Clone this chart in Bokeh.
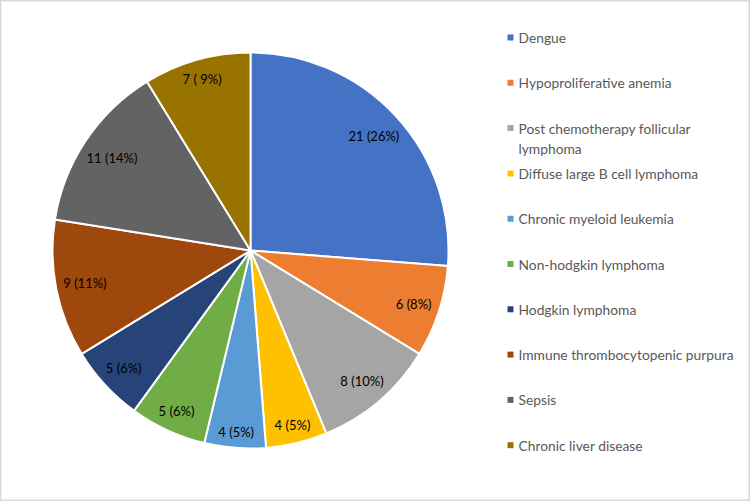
import math
from bokeh.plotting import figure
from bokeh.models import Range1d, ColumnDataSource
from bokeh.core.properties import value
from bokeh.embed import file_html
from bokeh.resources import INLINE

# ---- data ----
categories = [
    "Dengue",
    "Hypoproliferative anemia",
    "Post chemotherapy follicular\nlymphoma",
    "Diffuse large B cell lymphoma",
    "Chronic myeloid leukemia",
    "Non-hodgkin lymphoma",
    "Hodgkin lymphoma",
    "Immune thrombocytopenic purpura",
    "Sepsis",
    "Chronic liver disease",
]
counts = [21, 6, 8, 4, 4, 5, 5, 9, 11, 7]
label_texts = ["21 (26%)", "6 (8%)", "8 (10%)", "4 (5%)", "4 (5%)",
               "5 (6%)", "5 (6%)", "9 (11%)", "11 (14%)", "7 ( 9%)"]
colors = ["#4472C4", "#ED7D31", "#A5A5A5", "#FFC000", "#5B9BD5",
          "#70AD47", "#264478", "#9E480E", "#636363", "#997300"]

# ---- layout (pixels, measured from top-left) ----
W, H = 750, 501
CX, CY, R = 250, 250, 198
FONT = "Lato"
LABEL_SIZE = 13
CHAR_W = 6.3
LABEL_H = 16
LEG_X_SQ, LEG_X_TXT, LEG_Y0, LEG_DY = 510, 518, 37, 45.3


def Y(ypx):
    return H - ypx


total = sum(counts)
starts, ends, lx, ly = [], [], [], []
cum = 0
for v, t in zip(counts, label_texts):
    a0 = cum / total * 2 * math.pi
    a1 = (cum + v) / total * 2 * math.pi
    cum += v
    starts.append(math.pi / 2 - a0)
    ends.append(math.pi / 2 - a1)
    mid = (a0 + a1) / 2
    s, c = math.sin(mid), math.cos(mid)
    w = CHAR_W * len(t)
    r = R - 6 - (w / 2) * abs(s) - (LABEL_H / 2) * abs(c)
    lx.append(CX + r * s)
    ly.append(Y(CY - r * c))

p = figure(width=W, height=H, x_range=Range1d(0, W), y_range=Range1d(0, H),
           x_axis_type=None, y_axis_type=None, min_border=0,
           toolbar_location=None, output_backend="svg")
p.grid.visible = False
p.outline_line_color = "#d9d9d9"
p.outline_line_width = 2
p.background_fill_color = "white"
p.border_fill_color = "white"

src = ColumnDataSource(dict(start=starts, end=ends, color=colors,
                            lx=lx, ly=ly, lt=label_texts))
p.wedge(x=CX, y=Y(CY), radius=R, start_angle="start", end_angle="end",
        direction="clock", fill_color="color", line_color="white",
        line_width=2, source=src)
p.text(x="lx", y="ly", text="lt", source=src, text_align="center",
       text_baseline="middle", text_font=value(FONT),
       text_font_size=f"{LABEL_SIZE}px", text_color="#000000")

# legend
leg_y = [Y(LEG_Y0 + i * LEG_DY) for i in range(len(categories))]
leg = ColumnDataSource(dict(y=leg_y, ty=[y + 8.5 for y in leg_y],
                            color=colors, name=categories))
p.scatter(x=LEG_X_SQ, y="y", marker="square", size=6, fill_color="color",
          line_color=None, source=leg)
p.text(x=LEG_X_TXT, y="ty", text="name", source=leg, text_align="left",
       text_baseline="top", text_font=value(FONT), text_font_size="13.8px",
       text_color="#595959", text_line_height=1.2)

open("out.html", "w").write(file_html(p, INLINE))
